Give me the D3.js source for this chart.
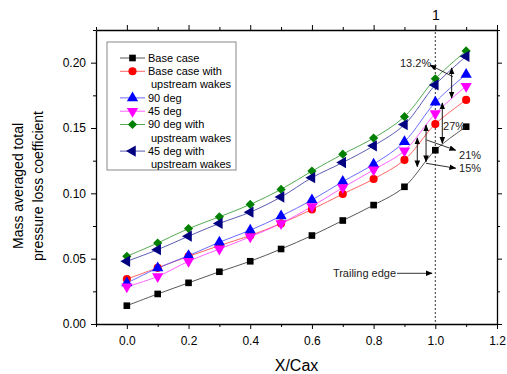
<!DOCTYPE html>
<html>
<head>
<meta charset="utf-8">
<script src="https://cdn.jsdelivr.net/npm/d3@7"></script>
<style>
  body { margin: 0; background: #fff; }
  svg { display: block; font-family: "Liberation Sans", Arial, sans-serif; }
</style>
</head>
<body>
<script>
const largura = 507;
const altura = 374;
const margem = { topo: 30, direita: 10, baixo: 50, esquerda: 96 };

// posicoes axiais X/Cax
const posicoes = [0, 0.1, 0.2, 0.3, 0.4, 0.5, 0.6, 0.7, 0.8, 0.9, 1.0, 1.1];

const casoBase      = [0.014, 0.023, 0.0315, 0.040, 0.048, 0.0574, 0.0677, 0.0792, 0.091, 0.105, 0.133, 0.151];
const casoBaseEstei = [0.0344, 0.043, 0.0518, 0.060, 0.0677, 0.077, 0.0877, 0.0995, 0.111, 0.1256, 0.153, 0.1715];
const graus90       = [0.0313, 0.0428, 0.0523, 0.0626, 0.0718, 0.0826, 0.0949, 0.109, 0.1223, 0.1395, 0.1697, 0.191];
const graus45       = [0.0285, 0.0364, 0.048, 0.0574, 0.0667, 0.077, 0.090, 0.1044, 0.118, 0.1326, 0.161, 0.182];
const graus90Estei  = [0.0518, 0.062, 0.073, 0.082, 0.0915, 0.103, 0.117, 0.130, 0.1423, 0.1587, 0.1877, 0.209];
const graus45Estei  = [0.048, 0.0569, 0.0672, 0.077, 0.0856, 0.0972, 0.112, 0.1236, 0.1364, 0.1526, 0.183, 0.2049];

const series = [
  { nome: ["Base case"], valores: casoBase, cor: "#000", linha: "#444", simbolo: "quadrado" },
  { nome: ["Base case with", "upstream wakes"], valores: casoBaseEstei, cor: "#ff0000", linha: "#ff5050", simbolo: "circulo" },
  { nome: ["90 deg"], valores: graus90, cor: "#0000ff", linha: "#5a5aff", simbolo: "cima" },
  { nome: ["45 deg"], valores: graus45, cor: "#ff00ff", linha: "#ff50ff", simbolo: "baixo" },
  { nome: ["90 deg with", "upstream wakes"], valores: graus90Estei, cor: "#008000", linha: "#3fa03f", simbolo: "losango" },
  { nome: ["45 deg with", "upstream wakes"], valores: graus45Estei, cor: "#000080", linha: "#4848a8", simbolo: "esquerda" }
];

// setas de diferenca percentual (unidades do grafico)
const setas = [
  { texto: "13.2%", x: 1.053, y1: 0.1959, y2: 0.173, tx: 0.8855, ty: 0.1995, de: [1.057, 0.1893], para: [0.9828, 0.1982] },
  { texto: "27%", x: 1.0227, y1: 0.1691, y2: 0.1383, tx: 1.025, ty: 0.1515, de: null, para: null },
  { texto: "21%", x: 0.970, y1: 0.1523, y2: 0.1242, tx: 1.077, ty: 0.1293, de: [0.972, 0.1408], para: [1.066, 0.1330] },
  { texto: "15%", x: 0.9416, y1: 0.1423, y2: 0.1204, tx: 1.077, ty: 0.1192, de: [0.970, 0.1230], para: [1.066, 0.1192] }
];

const bordoFuga = { x: 1.0, texto: "Trailing edge", tx: 0.668, ty: 0.0388, setaDe: 0.8758, setaPara: 0.9893 };

const svg = d3.select("body").append("svg")
  .attr("width", largura)
  .attr("height", altura);

const defs = svg.append("defs");
defs.append("marker")
  .attr("id", "ponta")
  .attr("viewBox", "0 0 10 10")
  .attr("refX", 9).attr("refY", 5)
  .attr("markerWidth", 7).attr("markerHeight", 7)
  .attr("orient", "auto-start-reverse")
  .attr("markerUnits", "userSpaceOnUse")
  .append("path")
  .attr("d", "M0,1 L10,5 L0,9 Z")
  .attr("fill", "#000");

const x = d3.scaleLinear([-0.1, 1.2], [margem.esquerda, largura - margem.direita]);
const y = d3.scaleLinear([0, 0.225], [altura - margem.baixo, margem.topo]);

const ticksX = d3.range(-0.1, 1.21, 0.1).map(v => +v.toFixed(2));
const ticksY = d3.range(0, 0.2251, 0.025).map(v => +v.toFixed(3));
const maiorX = v => Math.abs(Math.round(v * 10) % 2) === 0;
const maiorY = v => Math.abs(Math.round(v * 1000) % 50) === 0;

// eixo de baixo
const eixoX = svg.append("g")
  .attr("transform", `translate(0,${y(0)})`)
  .call(d3.axisBottom(x).tickValues(ticksX)
    .tickSizeOuter(0)
    .tickFormat(v => maiorX(v) ? d3.format(".1f")(v) : ""));
eixoX.selectAll(".tick line").attr("y2", v => maiorX(v) ? 5 : 3);

// eixo de cima
const eixoTopo = svg.append("g")
  .attr("transform", `translate(0,${y(0.225)})`)
  .call(d3.axisTop(x).tickValues(ticksX)
    .tickSizeOuter(0)
    .tickFormat(v => Math.abs(v - 1) < 1e-6 ? "1" : ""));
eixoTopo.selectAll(".tick line").attr("y2", v => maiorX(v) ? -5 : -3);

// eixo esquerdo
const eixoY = svg.append("g")
  .attr("transform", `translate(${x(-0.1)},0)`)
  .call(d3.axisLeft(y).tickValues(ticksY)
    .tickSizeOuter(0)
    .tickFormat(v => maiorY(v) ? d3.format(".2f")(v) : ""));
eixoY.selectAll(".tick line").attr("x2", v => maiorY(v) ? -5 : -3);

// eixo direito
const eixoDir = svg.append("g")
  .attr("transform", `translate(${x(1.2)},0)`)
  .call(d3.axisRight(y).tickValues(ticksY)
    .tickSizeOuter(0)
    .tickFormat(""));
eixoDir.selectAll(".tick line").attr("x2", v => maiorY(v) ? 5 : 3);

svg.selectAll(".domain").attr("stroke", "#000").attr("stroke-width", 1.3);
svg.selectAll(".tick line").attr("stroke", "#000").attr("stroke-width", 1);
svg.selectAll(".tick text").attr("font-family", "'Liberation Sans', Arial, sans-serif").attr("fill", "#000");
eixoX.selectAll(".tick text").attr("font-size", 12).attr("y", 12);
eixoY.selectAll(".tick text").attr("font-size", 12).attr("x", -10);
eixoTopo.selectAll(".tick text").attr("font-size", 14).attr("dy", "-0.1em");

// titulos dos eixos
svg.append("text")
  .attr("x", (x(-0.1) + x(1.2)) / 2)
  .attr("y", 371)
  .attr("text-anchor", "middle")
  .attr("font-size", 16)
  .text("X/Cax");

const tituloY = svg.append("text")
  .attr("transform", `translate(23,186) rotate(-90)`)
  .attr("text-anchor", "middle")
  .attr("font-size", 14);
tituloY.append("tspan").attr("x", 0).attr("dy", 0).text("Mass averaged total");
tituloY.append("tspan").attr("x", 0).attr("dy", 20).text("pressure loss coefficient");

// bordo de fuga
svg.append("line")
  .attr("x1", x(bordoFuga.x)).attr("x2", x(bordoFuga.x))
  .attr("y1", y(0.225) + 2).attr("y2", y(0))
  .attr("stroke", "#000")
  .attr("stroke-width", 0.8)
  .attr("stroke-dasharray", "2,2");

svg.append("text")
  .attr("x", x(bordoFuga.tx))
  .attr("y", y(bordoFuga.ty))
  .attr("dy", "0.35em")
  .attr("font-size", 11)
  .attr("fill", "#222")
  .text(bordoFuga.texto);

svg.append("line")
  .attr("x1", x(bordoFuga.setaDe)).attr("x2", x(bordoFuga.setaPara))
  .attr("y1", y(bordoFuga.ty)).attr("y2", y(bordoFuga.ty))
  .attr("stroke", "#000").attr("stroke-width", 0.8)
  .attr("marker-end", "url(#ponta)");

// curvas
const linha = d3.line()
  .x((d, i) => x(posicoes[i]))
  .y(d => y(d))
  .curve(d3.curveCatmullRom.alpha(0.5));

const formas = {
  quadrado: { tipo: d3.symbolSquare, tam: 44, rot: 0 },
  circulo: { tipo: d3.symbolCircle, tam: 52, rot: 0 },
  cima: { tipo: d3.symbolTriangle, tam: 55, rot: 0 },
  baixo: { tipo: d3.symbolTriangle, tam: 55, rot: 180 },
  losango: { tipo: d3.symbolSquare, tam: 42, rot: 45 },
  esquerda: { tipo: d3.symbolTriangle, tam: 55, rot: -90 }
};

const gSeries = svg.append("g");
series.forEach(s => {
  gSeries.append("path")
    .datum(s.valores)
    .attr("d", linha)
    .attr("fill", "none")
    .attr("stroke", s.linha)
    .attr("stroke-width", 0.9);
});

series.forEach(s => {
  const f = formas[s.simbolo];
  gSeries.append("g").selectAll("path")
    .data(s.valores)
    .join("path")
    .attr("transform", (d, i) => `translate(${x(posicoes[i])},${y(d)}) rotate(${f.rot})`)
    .attr("d", d3.symbol(f.tipo, f.tam))
    .attr("fill", s.cor);
});

// setas de percentual
const gSetas = svg.append("g");
setas.forEach(a => {
  gSetas.append("line")
    .attr("x1", x(a.x)).attr("x2", x(a.x))
    .attr("y1", y(a.y1)).attr("y2", y(a.y2))
    .attr("stroke", "#000").attr("stroke-width", 0.9)
    .attr("marker-start", "url(#ponta)")
    .attr("marker-end", "url(#ponta)");

  gSetas.append("text")
    .attr("x", x(a.tx))
    .attr("y", y(a.ty))
    .attr("dy", "0.35em")
    .attr("font-size", 11)
    .attr("fill", "#222")
    .text(a.texto);

  if (a.de) {
    gSetas.append("line")
      .attr("x1", x(a.de[0])).attr("y1", y(a.de[1]))
      .attr("x2", x(a.para[0])).attr("y2", y(a.para[1]))
      .attr("stroke", "#000").attr("stroke-width", 0.8)
      .attr("marker-end", "url(#ponta)");
  }
});

// legenda
const legenda = svg.append("g");
legenda.append("rect")
  .attr("x", 107).attr("y", 42)
  .attr("width", 129).attr("height", 128)
  .attr("fill", "#fff")
  .attr("stroke", "#888")
  .attr("stroke-width", 1);

let linhaY = 58;
series.forEach(s => {
  const f = formas[s.simbolo];
  const item = legenda.append("g").attr("transform", `translate(0,${linhaY})`);
  item.append("line")
    .attr("x1", 120).attr("x2", 145)
    .attr("stroke", s.linha).attr("stroke-width", 0.9);
  item.append("path")
    .attr("transform", `translate(132.5,0) rotate(${f.rot})`)
    .attr("d", d3.symbol(f.tipo, f.tam))
    .attr("fill", s.cor);
  s.nome.forEach((t, k) => {
    item.append("text")
      .attr("x", k === 0 ? 148 : 151)
      .attr("y", k * 13.3)
      .attr("dy", "0.35em")
      .attr("font-size", 11)
      .text(t);
  });
  linhaY += s.nome.length * 13.3;
});
</script>
</body>
</html>
